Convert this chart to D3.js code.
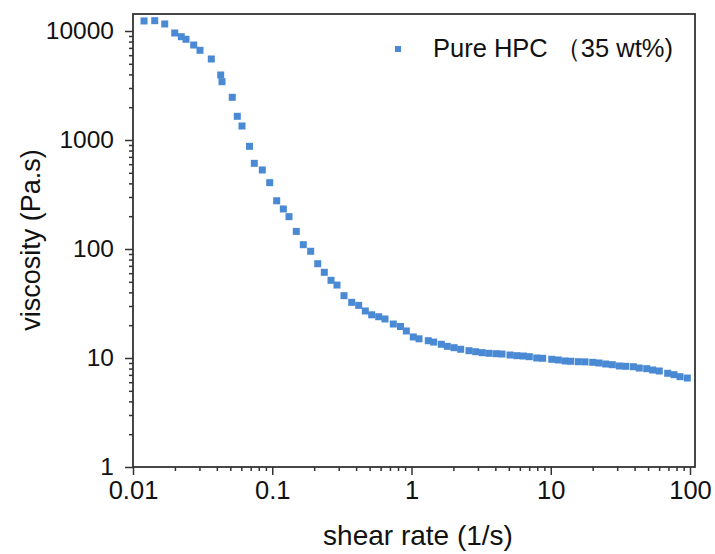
<!DOCTYPE html>
<html><head><meta charset="utf-8">
<script src="https://cdn.jsdelivr.net/npm/d3@7"></script>
<style>body{margin:0;background:#fff;} text{font-family:"Liberation Sans",Arial,sans-serif;fill:#111;}</style>
</head><body>
<svg id="c" width="715" height="554"></svg>
<script>
const shearRate = [0.0120,0.01432,0.0169,0.01994,0.02223,0.02403,0.02729,0.03028,0.0365,0.04264,0.04357,0.05163,0.0561,0.06064,0.06864,0.07431,0.08482,0.09587,0.1076,0.1201,0.1319,0.1488,0.1671,0.1888,0.2121,0.2365,0.2642,0.2917,0.3276,0.372,0.4176,0.4659,0.5178,0.5815,0.6452,0.7403,0.8337,0.9178,1.030,1.132,1.320,1.443,1.637,1.807,2.020,2.256,2.588,2.891,3.224,3.602,4.045,4.466,5.098,5.694,6.354,7.015,7.929,8.752,10.16,11.33,12.66,13.91,15.77,17.62,20.01,22.21,24.81,27.67,31.07,34.54,39.15,43.23,48.87,53.97,60.18,69.14,76.77,84.78,95.6];
const viscosity = [12360,12430,11600,9590,8866,8393,7438,6650,5535,3947,3427,2464,1650,1344,875,611,531,406,277,233,198,145,109.5,95.3,73.3,61.1,51.6,46.7,37.3,32.4,30.4,27.0,24.9,23.9,22.8,20.5,19.45,17.7,15.6,15.0,14.4,14.0,13.36,12.8,12.43,12.02,11.67,11.42,11.19,11.04,10.95,10.88,10.65,10.50,10.43,10.28,10.0,9.94,9.73,9.59,9.39,9.33,9.25,9.22,9.13,9.00,8.81,8.68,8.45,8.39,8.32,8.09,7.98,7.76,7.60,7.24,7.03,6.74,6.55];
const xTicks = [0.01,0.1,1,10,100];
const xTickLabels = ["0.01","0.1","1","10","100"];
const yTicks = [1,10,100,1000,10000];
const yTickLabels = ["1","10","100","1000","10000"];
const seriesName = "Pure HPC （35 wt%)";
const xTitle = "shear rate (1/s)";
const yTitle = "viscosity (Pa.s)";

const L=133,R=695,T=14,B=467;
const svg=d3.select("#c");
const x=d3.scaleLog().domain([0.01,108.6]).range([L,R]);
const y=d3.scaleLog().domain([1,14320]).range([B,T]);
const color="#4a89d3";
const FF="Liberation Sans, Arial, sans-serif";

function minors(dom){const out=[];for(let e=Math.floor(Math.log10(dom[0]));e<=Math.ceil(Math.log10(dom[1]));e++){for(let k=2;k<=9;k++){const v=k*Math.pow(10,e);if(v>=dom[0]&&v<=dom[1])out.push(v);}}return out;}

// minor ticks
svg.append("g").attr("transform",`translate(0,${B})`)
  .call(d3.axisBottom(x).tickValues(minors([0.01,100])).tickSize(4).tickFormat(""))
  .call(g=>{g.select(".domain").remove();g.selectAll("line").attr("stroke","#333").attr("stroke-width",1.5);});
svg.append("g").attr("transform",`translate(${L},0)`)
  .call(d3.axisLeft(y).tickValues(minors([1,10000])).tickSize(4).tickFormat(""))
  .call(g=>{g.select(".domain").remove();g.selectAll("line").attr("stroke","#333").attr("stroke-width",1.5);});
// major ticks
svg.append("g").attr("transform",`translate(0,${B})`)
  .call(d3.axisBottom(x).tickValues(xTicks).tickSize(8).tickPadding(6).tickFormat((d,i)=>xTickLabels[i]))
  .call(g=>{g.select(".domain").remove();g.selectAll("line").attr("stroke","#333").attr("stroke-width",1.5);
    g.selectAll("text").attr("font-size",25.5).attr("fill","#111").attr("font-family",FF);});
svg.append("g").attr("transform",`translate(${L},0)`)
  .call(d3.axisLeft(y).tickValues(yTicks).tickSize(8).tickPadding(11).tickFormat((d,i)=>yTickLabels[i]))
  .call(g=>{g.select(".domain").remove();g.selectAll("line").attr("stroke","#333").attr("stroke-width",1.5);
    g.selectAll("text").attr("font-size",24.5).attr("fill","#111").attr("font-family",FF);});

// frame
svg.append("rect").attr("x",L).attr("y",T).attr("width",R-L).attr("height",B-T)
  .attr("fill","none").attr("stroke","#333").attr("stroke-width",1.8);

// points
const s=7;
svg.append("g").selectAll("rect").data(shearRate.map((v,i)=>[v,viscosity[i]])).join("rect")
  .attr("x",d=>x(d[0])-s/2).attr("y",d=>y(d[1])-s/2).attr("width",s).attr("height",s).attr("fill",color);

// legend
svg.append("rect").attr("x",395).attr("y",46).attr("width",6).attr("height",6).attr("fill",color);
svg.append("text").attr("x",433).attr("y",57).attr("font-size",25.5).text(seriesName);

// titles
svg.append("text").attr("x",418).attr("y",545).attr("text-anchor","middle").attr("font-size",28).text(xTitle);
svg.append("text").attr("transform","translate(40,240) rotate(-90)").attr("text-anchor","middle").attr("font-size",27).text(yTitle);
</script>
</body></html>
